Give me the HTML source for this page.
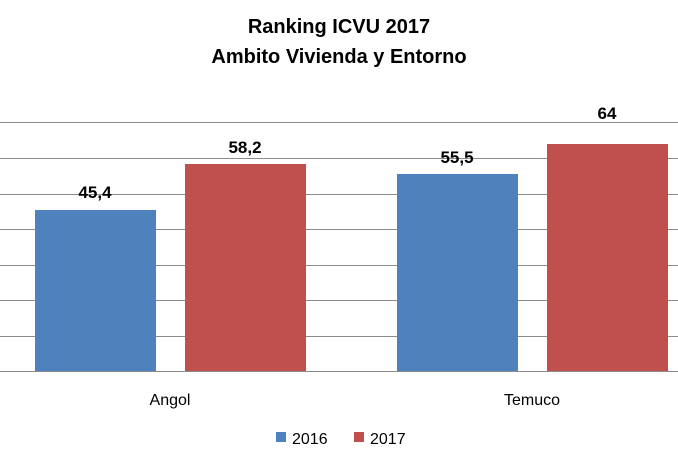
<!DOCTYPE html><html><head><style>body{margin:0;background:#fff}svg{display:block}</style></head><body>
<svg width="678" height="461" xmlns="http://www.w3.org/2000/svg" font-family="Liberation Sans, sans-serif">
<g stroke="#8c8c8c" stroke-width="1">
<line x1="0" x2="678" y1="122.5" y2="122.5"/><line x1="0" x2="678" y1="158.5" y2="158.5"/><line x1="0" x2="678" y1="194.5" y2="194.5"/><line x1="0" x2="678" y1="229.5" y2="229.5"/><line x1="0" x2="678" y1="265.5" y2="265.5"/><line x1="0" x2="678" y1="300.5" y2="300.5"/><line x1="0" x2="678" y1="336.5" y2="336.5"/><line x1="0" x2="678" y1="371.5" y2="371.5"/>
</g>
<rect x="35" y="210" width="121" height="161" fill="#4f81bd"/>
<rect x="185" y="164" width="121" height="207" fill="#c0504d"/>
<rect x="397" y="174" width="121" height="197" fill="#4f81bd"/>
<rect x="547" y="144" width="121" height="227" fill="#c0504d"/>
<g font-weight="bold" font-size="17" text-anchor="middle" fill="#000">
<text x="95" y="198">45,4</text><text x="245" y="153">58,2</text><text x="457" y="163">55,5</text><text x="607" y="119">64</text>
<text x="339" y="33" font-size="20">Ranking ICVU 2017</text><text x="339" y="63" font-size="20">Ambito Vivienda y Entorno</text>
</g>
<g font-size="16" text-anchor="middle" fill="#000"><text x="170" y="405">Angol</text><text x="532" y="405">Temuco</text></g>
<rect x="276" y="432" width="10" height="10" fill="#4f81bd"/><text x="292" y="444" font-size="16">2016</text>
<rect x="354" y="432" width="10" height="10" fill="#c0504d"/><text x="370" y="444" font-size="16">2017</text>
</svg></body></html>
